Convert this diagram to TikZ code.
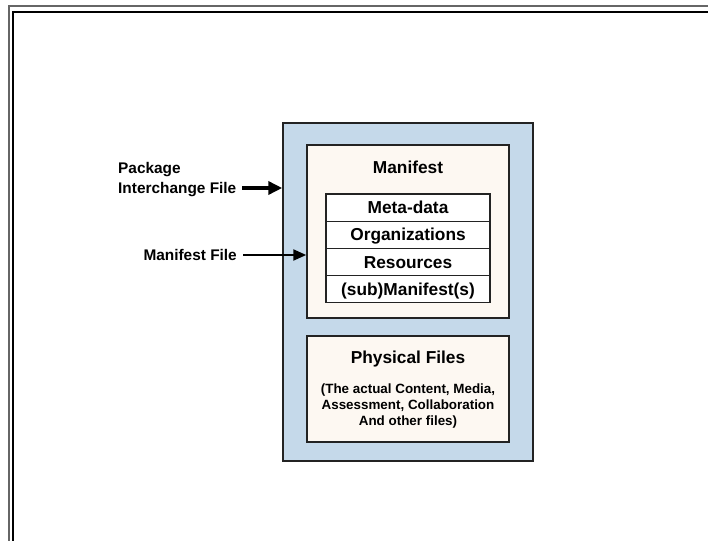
\documentclass[tikz,border=0pt]{standalone}
\usepackage{fontspec}
\setmainfont{Liberation Sans}
\usetikzlibrary{arrows.meta}
\definecolor{boxblue}{RGB}{197,217,234}
\definecolor{cream}{RGB}{253,248,242}
\definecolor{edge}{RGB}{35,35,35}
\begin{document}
\begin{tikzpicture}[x=1pt,y=-1pt,
  panel/.style={draw=edge,line width=1.5pt,inner sep=0pt},
  rowbox/.style={draw=edge,line width=1.2pt,fill=white,inner sep=0pt,minimum width=164pt,minimum height=27.125pt,
    font=\bfseries\fontsize{17.3}{20}\selectfont,text height=12.4pt,text depth=0pt},
  lbl/.style={font=\bfseries\fontsize{15.4}{18}\selectfont,inner sep=0pt,text height=11pt,text depth=0pt},
  ttl/.style={font=\bfseries\fontsize{17.3}{20}\selectfont,inner sep=0pt,text height=12.4pt,text depth=0pt},
  smalltext/.style={font=\bfseries\fontsize{13.4}{16}\selectfont,inner sep=0pt,align=center},
]
\useasboundingbox (0,0) rectangle (708,540);
\fill[white] (0,0) rectangle (708,540);
% page frame
\draw[line width=2pt,black!60] (9,541) -- (9,6) -- (709,6);
\draw[line width=2pt,black] (13,541) -- (13,12) -- (709,12);
% boxes
\node[panel,fill=boxblue,minimum width=250pt,minimum height=338pt] (outer) at (408,292) {};
\node[panel,fill=cream,minimum width=202pt,minimum height=173pt] (manifest) at (408,231.5) {};
\node[panel,fill=cream,minimum width=202pt,minimum height=106pt] (physical) at (408,389) {};
% manifest contents
\node[ttl] (mtitle) at (408,167) {Manifest};
\node[rowbox] (meta) at (408,207.56) {Meta-data};
\node[rowbox] (org) at (408,234.69) {Organizations};
\node[rowbox] (res) at (408,261.81) {Resources};
\node[rowbox] (sub) at (408,288.94) {(sub)Manifest(s)};
% physical files
\node[ttl] (ptitle) at (408,357) {Physical Files};
\node[smalltext] (pdesc) at (408,406.5) {(The actual Content, Media,\\Assessment, Collaboration\\And other files)};
% side labels
\node[lbl,anchor=west] (pkg) at (118,168) {Package};
\node[lbl,anchor=west] (ifl) at (118,188) {Interchange File};
\node[lbl,anchor=east] (mfl) at (237,255) {Manifest File};
\coordinate (t1) at ([xshift=6pt]ifl.east);
\coordinate (t2) at ([xshift=6pt]mfl.east);
\draw[black,line width=4.5pt,-{Triangle[length=14pt,width=13pt]}] (t1) -- (t1 -| outer.west);
\draw[black,line width=2.2pt,-{Triangle[length=13pt,width=11pt]}] (t2) -- (t2 -| manifest.west);
\end{tikzpicture}
\end{document}
